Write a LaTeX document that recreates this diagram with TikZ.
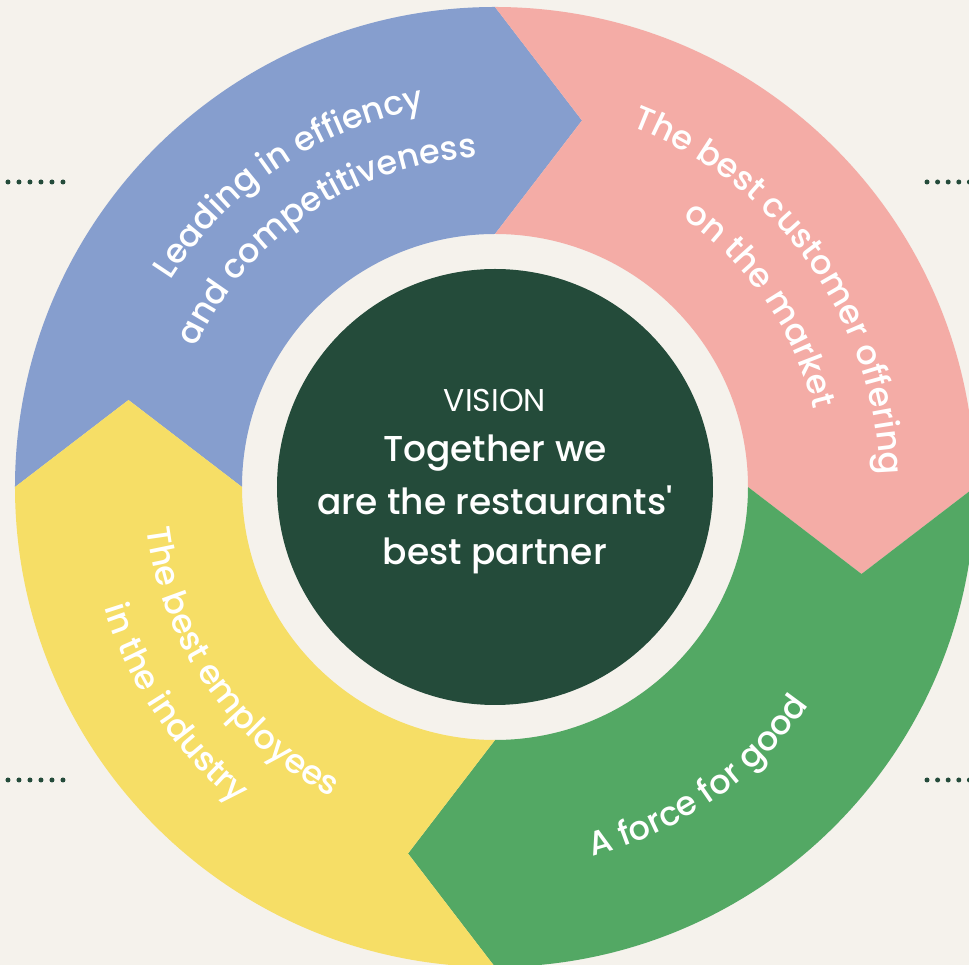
\documentclass[tikz,border=0pt]{standalone}
\usepackage{fontspec}
\setmainfont{Poppins Medium}
\newfontfamily\visionfont{Poppins}
\usepackage{xcolor}
\usepackage{tikz}
\usetikzlibrary{calc,decorations.text}

\definecolor{cream}{HTML}{F5F2EC}
\definecolor{ringblue}{HTML}{869ECE}
\definecolor{ringpink}{HTML}{F4ACA6}
\definecolor{ringgreen}{HTML}{53A864}
\definecolor{ringyellow}{HTML}{F6DE66}
\definecolor{deepgreen}{HTML}{244B3A}
\newcommand\ringfont{\fontsize{33.5}{36}\selectfont}

\begin{document}
\begin{tikzpicture}[x=1pt,y=1pt,
    ringtext/.style={decorate,decoration={text along path,text align=center,text color=white,text={|\ringfont|#1}}},
    centertext/.style={anchor=base,text=white,font=\fontsize{36}{40}\selectfont},
    dot/.style={fill=deepgreen}]
  \useasboundingbox[fill=cream] (-495,-478) rectangle (474,487);
  \clip (-495,-478) rectangle (474,487);
  \foreach \a/\c in {180/ringblue,90/ringpink,0/ringgreen,270/ringyellow}
    \fill[\c] (\a:480) arc[start angle=\a,end angle=\a-90,radius=480]
      -- ($(\a-90:366.5)+(\a-180:87)$) -- (\a-90:253)
      arc[start angle=\a-90,end angle=\a,radius=253]
      -- ($(\a:366.5)+(\a-90:87)$) -- cycle;
  \fill[deepgreen] (0,0) circle[radius=218];
  \path[ringtext={Leading in effiency}] (184:385) arc[start angle=184,end angle=64,radius=385];
  \path[ringtext={and competitiveness}] (184:330) arc[start angle=184,end angle=64,radius=330];
  \path[ringtext={The best customer offering}] (95.5:385) arc[start angle=95.5,end angle=-24.5,radius=385];
  \path[ringtext={on the market}] (94.4:328) arc[start angle=94.4,end angle=-25.6,radius=328];
  \path[ringtext={A force for good}] (245:382) arc[start angle=245,end angle=365,radius=382];
  \path[ringtext={The best employees}] (154.5:351) arc[start angle=154.5,end angle=274.5,radius=351];
  \path[ringtext={in the industry}] (154:409) arc[start angle=154,end angle=274,radius=409];
  \node[anchor=base,text=white,font=\visionfont\fontsize{31.5}{34}\selectfont] (vision) at (0,75) {VISION};
  \node[centertext] (together) at (0,25) {Together we};
  \node[centertext] (restaurants) at (0,-28) {are the restaurants\textquotesingle};
  \node[centertext] (partner) at (0,-78) {best partner};
  \foreach \i in {0,...,6} {
    \fill[dot] (-498+11*\i,305) circle[radius=2.5];
    \fill[dot] (-498+11*\i,-293) circle[radius=2.5];
  }
  \foreach \i in {0,...,4} {
    \fill[dot] (432+10.6*\i,305) circle[radius=2.5];
    \fill[dot] (432+10.6*\i,-293) circle[radius=2.5];
  }
\end{tikzpicture}
\end{document}
